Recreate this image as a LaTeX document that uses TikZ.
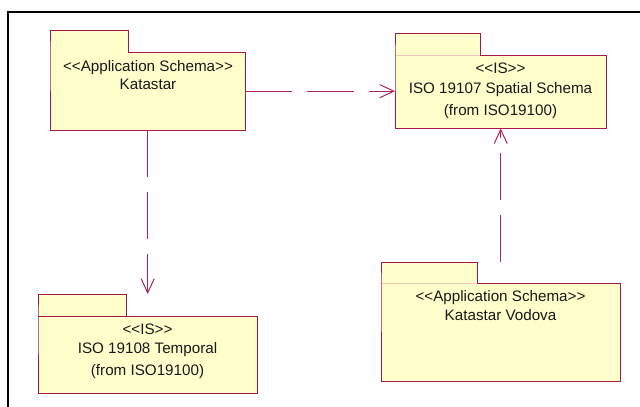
\documentclass[tikz,border=0pt]{standalone}
\usepackage{fontspec}
\setmainfont{Liberation Sans}
\usetikzlibrary{arrows.meta}
\definecolor{pkgfill}{RGB}{255,255,204}
\definecolor{pkgedge}{RGB}{165,25,70}
\definecolor{tabsepc}{RGB}{240,200,190}
\definecolor{depc}{RGB}{175,35,85}
\newcommand\stereo[1]{<\kern0pt<#1>\kern0pt>}
\tikzset{
  pkgbody/.style={fill=pkgfill, draw=none, inner sep=0pt, anchor=north west},
  pkgline/.style={draw=pkgedge, line width=1pt, fill=pkgfill, line join=miter},
  tabline/.style={draw=#1, line width=1pt},
  lbl/.style={font=\fontsize{15.2}{17}\selectfont, text=black!90, anchor=base, inner sep=0pt},
  dep/.style={draw=depc, line width=1pt, dash pattern=on 47pt off 15pt,
    -{Straight Barb[length=14pt, width=13pt, line width=1pt]}},
  frameline/.style={draw=black, line width=2pt}
}
\begin{document}
\begin{tikzpicture}[x=1pt,y=-1pt]
\useasboundingbox (0,0) rectangle (640,407);
% frame
\coordinate (fb) at (8,407);
\coordinate (fc) at (8,12);
\coordinate (fr) at (640,12);
\draw[frameline] (fb) -- (fc) -- (fr);

% Katastar
\node[pkgbody, minimum width=195pt, minimum height=78pt] (kat) at (50,52) {};
\filldraw[pkgline] (kat.north west) -- ++(0,-22) -- ++(78,0) |- (kat.north east)
  -- (kat.south east) -- (kat.south west) -- cycle;
\node[lbl] (kat1) at (148,71) {\stereo{Application Schema}};
\node[lbl] (kat2) at (148,89) {Katastar};

% ISO 19107
\node[pkgbody, minimum width=211pt, minimum height=73pt] (iso107) at (395,55) {};
\filldraw[pkgline] (iso107.north west) -- ++(0,-22) -- ++(85,0) |- (iso107.north east)
  -- (iso107.south east) -- (iso107.south west) -- cycle;
\draw[tabline=tabsepc] ([xshift=1pt]iso107.north west) -- ++(84,0);
\node[lbl] (iso107a) at (500.5,73) {\stereo{IS}};
\node[lbl] (iso107b) at (500.5,93) {ISO 19107 Spatial Schema};
\node[lbl] (iso107c) at (500.5,115) {(from ISO19100)};

% ISO 19108
\node[pkgbody, minimum width=219pt, minimum height=77pt] (iso108) at (38,316) {};
\filldraw[pkgline] (iso108.north west) -- ++(0,-22) -- ++(88,0) |- (iso108.north east)
  -- (iso108.south east) -- (iso108.south west) -- cycle;
\draw[tabline=pkgedge] (iso108.north west) -- ++(88,0);
\coordinate (t108) at (38,294);
\node[lbl] (iso108a) at (147.5,334) {\stereo{IS}};
\node[lbl] (iso108b) at (147.5,353) {ISO 19108 Temporal};
\node[lbl] (iso108c) at (147.5,375) {(from ISO19100)};

% Katastar Vodova
\node[pkgbody, minimum width=239pt, minimum height=98pt] (vod) at (381,283) {};
\filldraw[pkgline] (vod.north west) -- ++(0,-21) -- ++(96,0) |- (vod.north east)
  -- (vod.south east) -- (vod.south west) -- cycle;
\draw[tabline=tabsepc] ([xshift=1pt]vod.north west) -- ++(95,0);
\coordinate (tvod) at (381,262);
\node[lbl] (vod1) at (500.5,301) {\stereo{Application Schema}};
\node[lbl] (vod2) at (500.5,320) {Katastar Vodova};

% dependencies
\draw[dep] (kat.east) -- (kat.east -| iso107.west);
\draw[dep] (kat.south) -- (kat.south |- t108);
\draw[dep] (iso107.south |- tvod) -- (iso107.south);
\end{tikzpicture}
\end{document}
